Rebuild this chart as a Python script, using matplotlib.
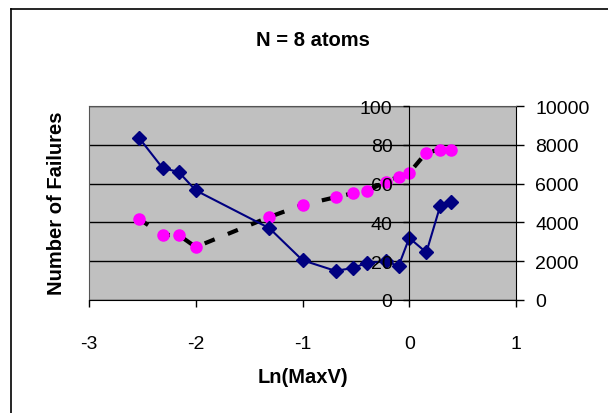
"""Failures vs Ln(MaxV) for N = 8 atoms, two y axes."""

import matplotlib

matplotlib.use("Agg")
import matplotlib.pyplot as plt
from matplotlib.lines import Line2D

plt.rcParams["font.family"] = ["Liberation Sans", "DejaVu Sans"]
plt.rcParams["axes.unicode_minus"] = False

# data
ln_maxv = [-2.53, -2.31, -2.16, -2.00, -1.31, -1.00, -0.69, -0.53,
           -0.40, -0.22, -0.10, 0.00, 0.16, 0.29, 0.39]
failures = [83.5, 68, 66, 56.5, 37, 20.5, 15, 16.5,
            19, 20, 17.5, 32, 24.5, 48.5, 50.5]
secondary = [4180, 3350, 3350, 2730, 4280, 4900, 5300, 5500,
             5600, 6100, 6350, 6550, 7600, 7750, 7750]
x_ticks = [-3, -2, -1, 0, 1]
left_ticks = [0, 20, 40, 60, 80, 100]
right_ticks = [0, 2000, 4000, 6000, 8000, 10000]

W, H = 608, 414
fig = plt.figure(figsize=(W / 100, H / 100), dpi=100)

# plot area in pixels: x 89..516, y 107..301
rect = [89 / W, 1 - 301 / H, (516 - 89) / W, (301 - 107) / H]
ax = fig.add_axes(rect)
ax2 = ax.twinx()

# ax (navy + left axis) sits on top, ax2 carries the grey background
ax.set_zorder(ax2.get_zorder() + 1)
ax.patch.set_visible(False)
ax2.patch.set_visible(True)
ax2.patch.set_facecolor("#C0C0C0")

# secondary series: magenta dots joined by a heavy dashed line
ax2.plot(ln_maxv, secondary, color="black", lw=3,
         linestyle=(0, (2.6, 3.4)), dash_capstyle="butt", zorder=2)
ax2.plot(ln_maxv, secondary, linestyle="none", marker="o", ms=8,
         color="#FF00FF", zorder=3)
ax2.set_ylim(0, 10000)
ax2.set_yticks(right_ticks)
ax2.yaxis.grid(True, color="black", lw=1)
ax2.set_axisbelow(True)
ax2.tick_params(axis="y", direction="out", length=6, width=1,
                labelsize=14, pad=8, colors="black")

# primary series: navy diamonds
ax.plot(ln_maxv, failures, color="#000080", lw=1.5, marker="D", ms=7,
        markerfacecolor="#000080", markeredgecolor="#000080", zorder=2)
ax.set_xlim(-3, 1)
ax.set_ylim(0, 100)
ax.set_xticks(x_ticks)
ax.set_yticks(left_ticks)
ax.set_axisbelow(False)
ax.tick_params(axis="x", direction="out", length=5, width=1,
               labelsize=14, pad=20)
ax.tick_params(axis="y", direction="out", length=4, width=1,
               labelsize=14, pad=8)

# left axis crosses at x = 0
ax.spines["left"].set_position(("data", 0))
ax.spines["left"].set_color("black")
ax.spines["top"].set_visible(False)
ax.spines["right"].set_visible(False)
ax.spines["bottom"].set_color("black")

ax2.spines["bottom"].set_visible(False)
ax2.spines["top"].set_color("#555555")
ax2.spines["left"].set_color("#555555")
ax2.spines["right"].set_color("black")

# titles
fig.text(313 / W, 1 - 40 / H, "N = 8 atoms", ha="center", va="center",
         fontsize=14.5, fontweight="bold")
fig.text(303 / W, 1 - 378 / H, "Ln(MaxV)", ha="center", va="center",
         fontsize=14.5, fontweight="bold")
fig.text(57 / W, 1 - 203 / H, "Number of Failures", ha="center",
         va="center", rotation=90, fontsize=14.5, fontweight="bold")

# chart frame, only its top and left edges fall inside the picture
fig.add_artist(Line2D([11 / W, 11 / W], [-0.1, 1 - 9.5 / H],
                      color="black", lw=1.2))
fig.add_artist(Line2D([11 / W, 1.1], [1 - 9.5 / H, 1 - 9.5 / H],
                      color="black", lw=1.2))

fig.savefig("out.png", dpi=100)
